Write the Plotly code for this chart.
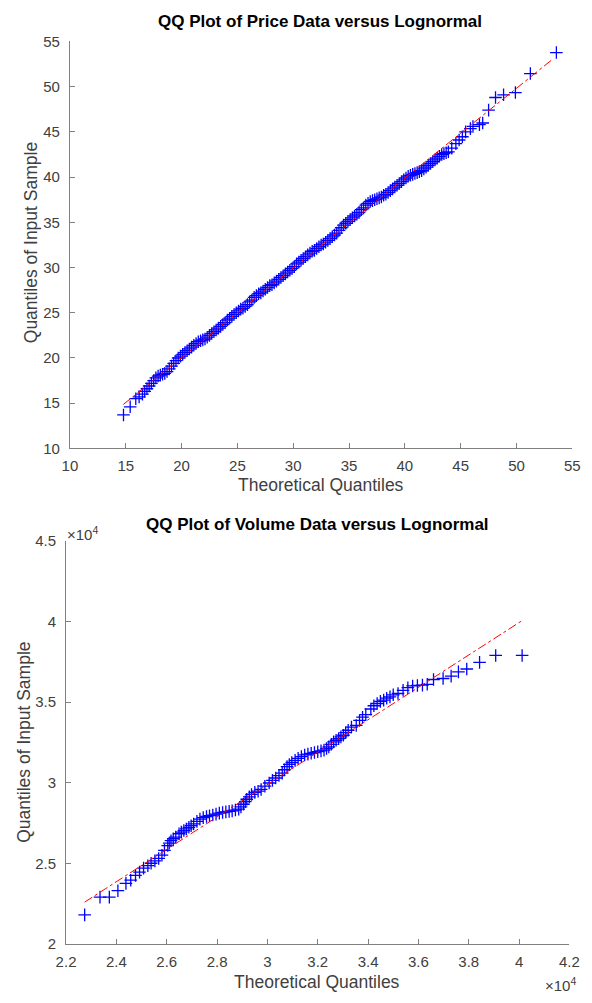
import plotly.graph_objects as go

# ---------------- Top: Price data ----------------
price_theoretical = [14.8, 15.4, 15.9, 16.2, 16.5, 16.7, 16.9, 17.1, 17.3, 17.5, 17.7, 17.9, 18.1, 18.3, 18.5, 18.7, 18.9,
                     19.1, 19.3, 19.5, 19.7, 19.9, 20.1, 20.3, 20.5, 20.7, 20.9, 21.1, 21.3, 21.5, 21.7, 21.9, 22.1, 22.3,
                     22.5, 22.7, 22.9, 23.1, 23.3, 23.5, 23.7, 23.9, 24.1, 24.3, 24.5, 24.7, 24.9, 25.1, 25.3, 25.5, 25.7,
                     25.9, 26.1, 26.3, 26.5, 26.7, 26.9, 27.1, 27.3, 27.5, 27.7, 27.9, 28.1, 28.3, 28.5, 28.7, 28.9, 29.1,
                     29.3, 29.5, 29.7, 29.9, 30.1, 30.3, 30.5, 30.7, 30.9, 31.1, 31.3, 31.5, 31.7, 31.9, 32.1, 32.3, 32.5,
                     32.7, 32.9, 33.1, 33.3, 33.5, 33.7, 33.9, 34.1, 34.3, 34.5, 34.7, 34.9, 35.1, 35.3, 35.5, 35.7, 35.9,
                     36.1, 36.3, 36.5, 36.7, 36.9, 37.1, 37.3, 37.5, 37.7, 37.9, 38.1, 38.3, 38.5, 38.7, 38.9, 39.1, 39.3,
                     39.5, 39.7, 39.9, 40.1, 40.3, 40.5, 40.7, 40.9, 41.1, 41.3, 41.5, 41.7, 41.9, 42.1, 42.3, 42.5, 42.7,
                     42.9, 43.1, 43.3, 43.5, 43.7, 43.9, 44.2, 44.57, 44.86, 45.15, 45.44, 45.87, 46.1, 46.68, 46.97,
                     47.5, 48.12, 48.84, 49.9, 51.24, 53.57]
price_sample = [13.7, 14.6, 15.5, 15.7, 16.0, 16.3, 16.6, 16.9, 17.2, 17.5, 17.8, 18.0, 18.1, 18.2, 18.3, 18.5, 18.8,
                19.1, 19.4, 19.7, 20.0, 20.2, 20.4, 20.6, 20.8, 21.0, 21.2, 21.4, 21.6, 21.8, 21.9, 22.0, 22.1, 22.3,
                22.5, 22.7, 22.9, 23.1, 23.3, 23.5, 23.7, 23.9, 24.2, 24.4, 24.6, 24.8, 25.0, 25.2, 25.4, 25.5, 25.7,
                25.9, 26.2, 26.4, 26.7, 26.9, 27.1, 27.2, 27.4, 27.6, 27.8, 28.0, 28.1, 28.3, 28.5, 28.7, 28.9, 29.1,
                29.3, 29.5, 29.7, 29.9, 30.1, 30.4, 30.6, 30.8, 31.0, 31.2, 31.4, 31.6, 31.8, 31.9, 32.1, 32.3, 32.5,
                32.6, 32.8, 33.0, 33.2, 33.4, 33.6, 33.8, 34.1, 34.4, 34.7, 34.9, 35.1, 35.3, 35.5, 35.7, 35.9, 36.1,
                36.4, 36.6, 36.9, 37.1, 37.3, 37.4, 37.5, 37.6, 37.7, 37.8, 38.0, 38.1, 38.3, 38.5, 38.7, 38.9, 39.1,
                39.3, 39.5, 39.7, 39.9, 40.1, 40.2, 40.3, 40.4, 40.5, 40.6, 40.7, 40.9, 41.1, 41.3, 41.5, 41.7, 41.9,
                42.1, 42.3, 42.5, 42.6, 42.7, 42.8, 43.2, 43.7, 44.1, 44.46, 45.0, 45.36, 45.6, 45.8, 45.98,
                47.4, 48.8, 49.1, 49.35, 51.45, 53.77]
price_ref_x = [14.78, 53.28]
price_ref_y = [14.86, 53.08]
price_ticks = [10, 15, 20, 25, 30, 35, 40, 45, 50, 55]

# ---------------- Bottom: Volume data ----------------
volume_theoretical = [22740, 23350, 23720, 24060, 24380, 24570, 24760, 24920, 25080, 25250, 25380, 25530, 25680, 25810,
                      25910, 26040, 26100, 26170, 26260, 26360, 26490, 26580, 26680, 26780, 26880, 26970, 27070, 27200,
                      27320, 27450, 27580, 27700, 27830, 27960, 28090, 28220, 28350, 28480, 28600, 28730, 28860, 28950,
                      29050, 29120, 29180, 29280, 29370, 29500, 29630, 29750, 29900, 30070, 30200, 30330, 30460, 30590,
                      30680, 30780, 30870, 30970, 31100, 31220, 31350, 31480, 31610, 31740, 31870, 32000, 32130, 32250,
                      32350, 32440, 32540, 32630, 32730, 32830, 32920, 33020, 33110, 33210, 33340, 33530, 33660, 33780,
                      33910, 34110, 34230, 34360, 34490, 34620, 34740, 34870, 35000, 35190, 35390, 35580, 35770, 35960,
                      36160, 36350, 36600, 36980, 37300, 37590, 37920, 38430, 39070, 40120]
volume_sample = [21800, 22900, 22900, 23300, 23750, 23950, 24250, 24450, 24700, 24850, 25000, 25150, 25300, 25500,
                 25800, 26100, 26250, 26400, 26520, 26620, 26830, 26930, 27030, 27130, 27230, 27330, 27440, 27600,
                 27740, 27830, 27900, 27950, 27990, 28050, 28110, 28150, 28190, 28220, 28250, 28300, 28360, 28500,
                 28660, 28820, 28970, 29120, 29270, 29400, 29470, 29580, 29780, 29980, 30140, 30290, 30440, 30590,
                 30800, 31000, 31130, 31250, 31380, 31510, 31620, 31720, 31770, 31820, 31870, 31920, 31970, 32020,
                 32120, 32220, 32380, 32530, 32630, 32730, 32840, 32940, 33100, 33250, 33450, 33550, 33860, 34060,
                 34220, 34570, 34770, 34910, 35040, 35120, 35240, 35320, 35450, 35530, 35730, 35890, 36000, 36030,
                 36050, 36100, 36400, 36460, 36610, 36870, 37050, 37460, 37890, 37890]
volume_ref_x = [22740, 40120]
volume_ref_y = [22590, 40050]
volume_xticks = [22000, 24000, 26000, 28000, 30000, 32000, 34000, 36000, 38000, 40000, 42000]
volume_xlabels = ["2.2", "2.4", "2.6", "2.8", "3", "3.2", "3.4", "3.6", "3.8", "4", "4.2"]
volume_yticks = [20000, 25000, 30000, 35000, 40000, 45000]
volume_ylabels = ["2", "2.5", "3", "3.5", "4", "4.5"]

W, H = 592, 1003
def px(v):
    return v / W
def py(v):
    return 1 - v / H

FONT = "Liberation Sans, Arial, Helvetica, sans-serif"
AX = "#808080"
TXT = "#404040"

fig = go.Figure()
marker = dict(symbol="cross-thin", size=9, line=dict(color="#0000ff", width=1.3), color="#0000ff")

fig.add_trace(go.Scatter(x=price_theoretical, y=price_sample, mode="markers", marker=marker,
                         xaxis="x", yaxis="y", showlegend=False))
fig.add_trace(go.Scatter(x=price_ref_x, y=price_ref_y, mode="lines",
                         line=dict(color="#ff0000", width=1, dash="dashdot"),
                         xaxis="x", yaxis="y", showlegend=False))
fig.add_trace(go.Scatter(x=volume_theoretical, y=volume_sample, mode="markers", marker=marker,
                         xaxis="x2", yaxis="y2", showlegend=False))
fig.add_trace(go.Scatter(x=volume_ref_x, y=volume_ref_y, mode="lines",
                         line=dict(color="#ff0000", width=1, dash="dashdot"),
                         xaxis="x2", yaxis="y2", showlegend=False))

axcommon = dict(showline=True, linecolor=AX, linewidth=1, mirror=False, showgrid=False, zeroline=False,
                ticks="inside", ticklen=5, tickcolor=AX, tickwidth=1,
                tickfont=dict(family=FONT, size=15, color=TXT))
xcommon = dict(ticklabelstandoff=4, **axcommon)
ycommon = dict(ticklabelstandoff=6, **axcommon)

fig.update_layout(
    width=W, height=H,
    margin=dict(l=0, r=0, t=0, b=0),
    paper_bgcolor="white", plot_bgcolor="white",
    xaxis=dict(domain=[px(62), px(582)], range=[10, 55], tickvals=price_ticks, anchor="y", **xcommon),
    yaxis=dict(domain=[py(447), py(33)], range=[10, 55], tickvals=price_ticks, anchor="x", **ycommon),
    xaxis2=dict(domain=[px(58), px(579)], range=[22000, 42000], tickvals=volume_xticks, ticktext=volume_xlabels,
                anchor="y2", **xcommon),
    yaxis2=dict(domain=[py(951), py(541)], range=[20000, 45000], tickvals=volume_yticks, ticktext=volume_ylabels,
                anchor="x2", **ycommon),
)

ann = []
ann.append(dict(text="<b>QQ Plot of Price Data versus Lognormal</b>", x=px(321), y=py(13), xref="paper", yref="paper",
                showarrow=False, font=dict(family=FONT, size=17, color="#000000"), xanchor="center", yanchor="middle"))
ann.append(dict(text="Theoretical Quantiles", x=px(322), y=py(484), xref="paper", yref="paper",
                showarrow=False, font=dict(family=FONT, size=17.5, color=TXT), xanchor="center", yanchor="middle"))
ann.append(dict(text="Quantiles of Input Sample", x=px(22), y=py(238), xref="paper", yref="paper", textangle=-90,
                showarrow=False, font=dict(family=FONT, size=17.5, color=TXT), xanchor="center", yanchor="middle"))
ann.append(dict(text="<b>QQ Plot of Volume Data versus Lognormal</b>", x=px(318), y=py(524), xref="paper", yref="paper",
                showarrow=False, font=dict(family=FONT, size=17, color="#000000"), xanchor="center", yanchor="middle"))
ann.append(dict(text="Theoretical Quantiles", x=px(318), y=py(990), xref="paper", yref="paper",
                showarrow=False, font=dict(family=FONT, size=17.5, color=TXT), xanchor="center", yanchor="middle"))
ann.append(dict(text="Quantiles of Input Sample", x=px(15), y=py(746), xref="paper", yref="paper", textangle=-90,
                showarrow=False, font=dict(family=FONT, size=17.5, color=TXT), xanchor="center", yanchor="middle"))
ann.append(dict(text="×10<sup>4</sup>", x=px(57), y=py(534), xref="paper", yref="paper",
                showarrow=False, font=dict(family=FONT, size=15, color=TXT), xanchor="left", yanchor="middle"))
ann.append(dict(text="×10<sup>4</sup>", x=px(588), y=py(992), xref="paper", yref="paper",
                showarrow=False, font=dict(family=FONT, size=15, color=TXT), xanchor="right", yanchor="middle"))
fig.update_layout(annotations=ann)

fig.write_html("out.html")
